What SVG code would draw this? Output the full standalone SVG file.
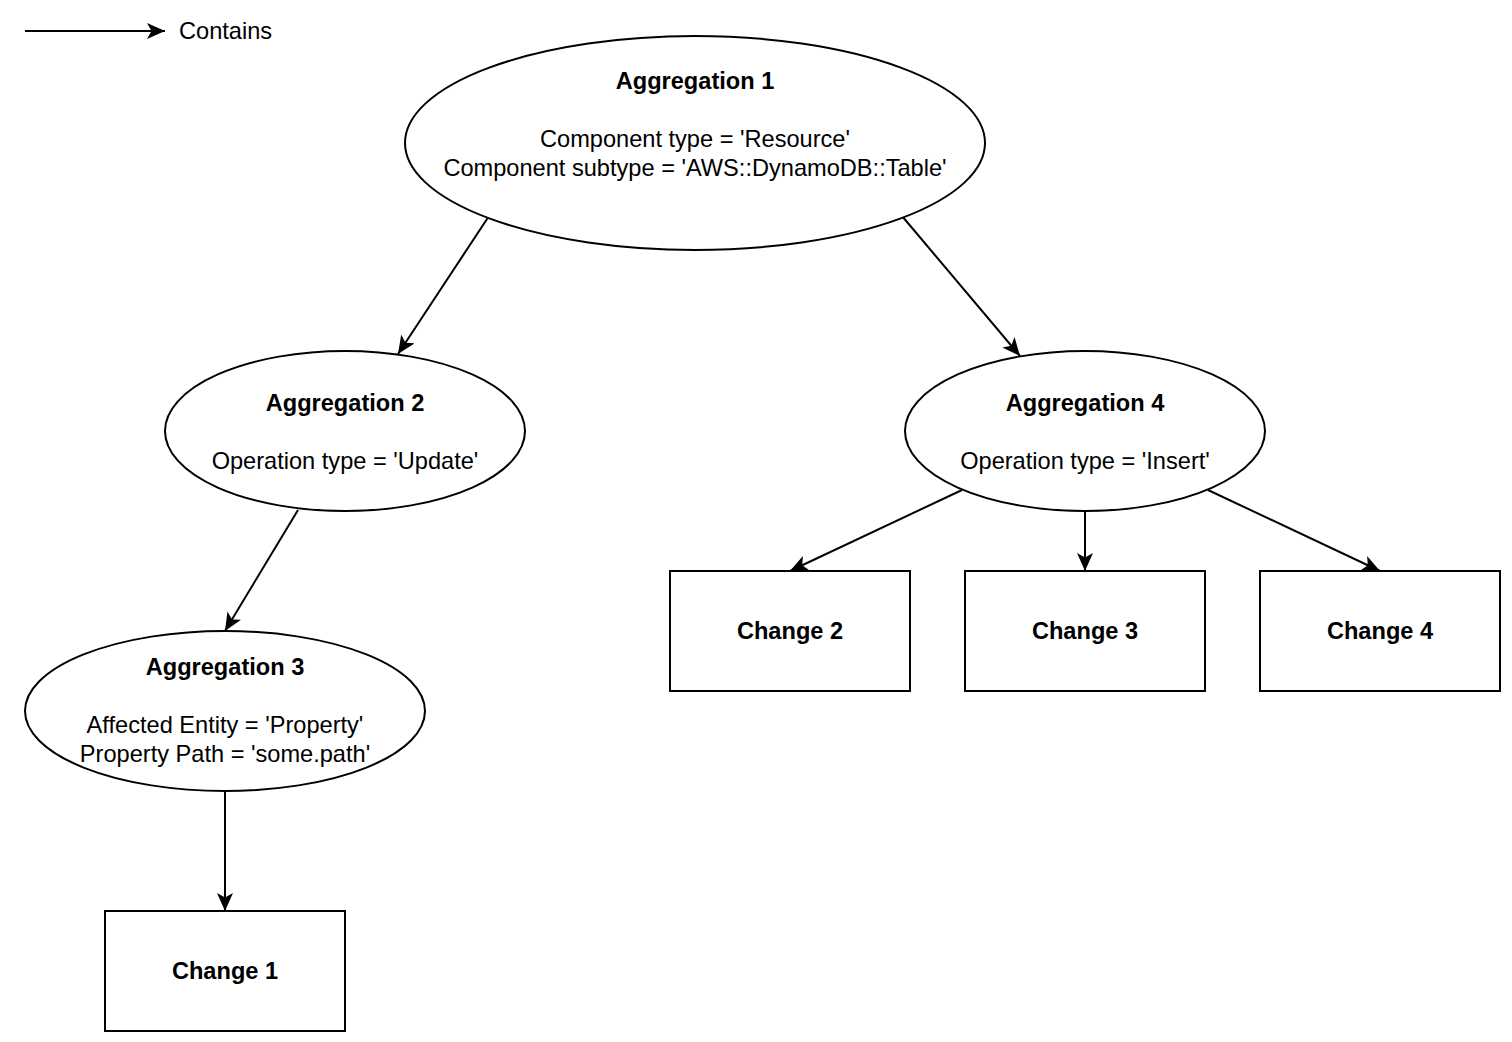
<svg xmlns="http://www.w3.org/2000/svg" width="1512" height="1042" viewBox="0 0 1512 1042">
<style>
.shape{fill:#ffffff;stroke:#000000;stroke-width:2}
.edge{fill:none;stroke:#000000;stroke-width:2}
text{font-family:"Liberation Sans",Arial,Helvetica,sans-serif;font-size:23.6px;fill:#000000;text-anchor:middle}
.b{font-weight:bold}
.l{text-anchor:start}
</style>
<defs>
<marker id="arr" viewBox="0 0 18 16" refX="18" refY="8" markerWidth="18" markerHeight="16" markerUnits="userSpaceOnUse" orient="auto">
<path d="M0,0 L18,8 L0,16 L4.5,8 z" fill="#000000"/>
</marker>
</defs>
<rect width="1512" height="1042" fill="#ffffff"/>
<g id="connectors">
<line class="edge" x1="25" y1="31" x2="165" y2="31" marker-end="url(#arr)"/>
<line class="edge" x1="489" y1="216" x2="398" y2="354" marker-end="url(#arr)"/>
<line class="edge" x1="902" y1="216" x2="1020" y2="356" marker-end="url(#arr)"/>
<line class="edge" x1="298" y1="510" x2="225" y2="631" marker-end="url(#arr)"/>
<line class="edge" x1="225" y1="791" x2="225" y2="911" marker-end="url(#arr)"/>
<line class="edge" x1="962" y1="490" x2="790" y2="571" marker-end="url(#arr)"/>
<line class="edge" x1="1085" y1="511" x2="1085" y2="571" marker-end="url(#arr)"/>
<line class="edge" x1="1208" y1="490" x2="1380" y2="571" marker-end="url(#arr)"/>
</g>
<g id="legend">
<text class="l" x="179" y="39">Contains</text>
</g>
<g id="agg1">
<ellipse class="shape" cx="695" cy="143" rx="290" ry="107"/>
<text class="b" x="695" y="89">Aggregation 1</text>
<text x="695" y="147">Component type = 'Resource'</text>
<text x="695" y="176">Component subtype = 'AWS::DynamoDB::Table'</text>
</g>
<g id="agg2">
<ellipse class="shape" cx="345" cy="431" rx="180" ry="80"/>
<text class="b" x="345" y="411">Aggregation 2</text>
<text x="345" y="469">Operation type = 'Update'</text>
</g>
<g id="agg4">
<ellipse class="shape" cx="1085" cy="431" rx="180" ry="80"/>
<text class="b" x="1085" y="411">Aggregation 4</text>
<text x="1085" y="469">Operation type = 'Insert'</text>
</g>
<g id="agg3">
<ellipse class="shape" cx="225" cy="711" rx="200" ry="80"/>
<text class="b" x="225" y="675">Aggregation 3</text>
<text x="225" y="733">Affected Entity = 'Property'</text>
<text x="225" y="762">Property Path = 'some.path'</text>
</g>
<g id="change1">
<rect class="shape" x="105" y="911" width="240" height="120"/>
<text class="b" x="225" y="979">Change 1</text>
</g>
<g id="change2">
<rect class="shape" x="670" y="571" width="240" height="120"/>
<text class="b" x="790" y="639">Change 2</text>
</g>
<g id="change3">
<rect class="shape" x="965" y="571" width="240" height="120"/>
<text class="b" x="1085" y="639">Change 3</text>
</g>
<g id="change4">
<rect class="shape" x="1260" y="571" width="240" height="120"/>
<text class="b" x="1380" y="639">Change 4</text>
</g>
</svg>
